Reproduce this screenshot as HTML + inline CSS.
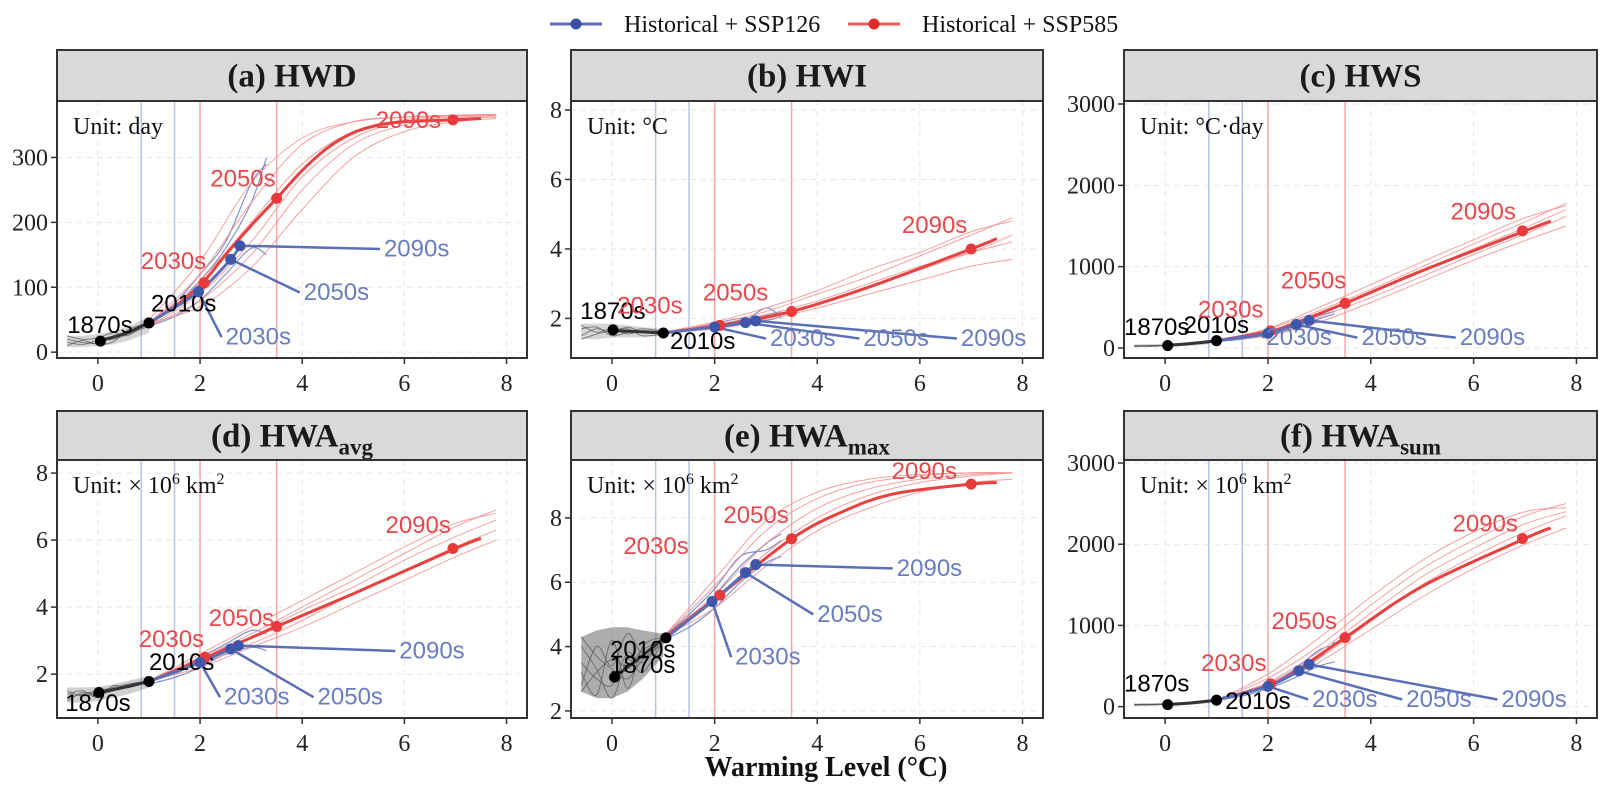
<!DOCTYPE html>
<html><head><meta charset="utf-8">
<style>
html,body{margin:0;padding:0;background:#fff;}
svg{display:block;}
</style></head>
<body>
<svg id="chart" width="1606" height="794" viewBox="0 0 1606 794" xmlns="http://www.w3.org/2000/svg">
  <g>
    <line x1="550" y1="24" x2="602" y2="24" stroke="#5a6fb5" stroke-width="3"/>
    <circle cx="576" cy="24" r="5.5" fill="#3a52a8"/>
    <text x="624" y="32" font-family="Liberation Serif, serif" font-size="24" fill="#111">Historical + SSP126</text>
    <line x1="848" y1="24" x2="900" y2="24" stroke="#ef5a5a" stroke-width="3"/>
    <circle cx="874" cy="24" r="5.5" fill="#e42a2a"/>
    <text x="922" y="32" font-family="Liberation Serif, serif" font-size="24" fill="#111">Historical + SSP585</text>
  </g>
  <text x="826" y="776" text-anchor="middle" font-family="Liberation Serif, serif" font-weight="bold" font-size="28" fill="#111">Warming Level (°C)</text>
</svg>
<script>
// ---------- shared data ----------
const xTicks = [0, 2, 4, 6, 8];
const refBlue = [0.85, 1.5];
const refRed = [2.0, 3.5];
const redXs = [1, 2, 3, 4, 5, 6, 7, 7.8];
const blueXs = [1, 1.5, 2, 2.5, 3, 3.3];
const grayXs = [-0.6, -0.3, 0, 0.3, 0.6, 1.0];

// ---------- (a) HWD ----------
const hwdYTicks = [0, 100, 200, 300];
const hwdGray = [[15,12,18,20,28,40],[20,15,14,25,32,48],[10,18,12,16,35,45],[25,20,22,30,26,50]];
const hwdBandLo = [8,8,9,12,18,30];
const hwdBandHi = [25,25,28,32,40,55];
const hwdBlue = [[45,70,110,160,230,300],[40,55,80,120,160,150],[45,75,120,170,260,290]];
const hwdRed = [[45,120,230,320,355,362,365,366],[40,90,170,270,330,355,362,364],[45,70,130,220,300,340,355,360],[50,140,260,330,355,362,365,366],[40,80,150,250,320,350,360,362],[45,110,200,290,340,358,364,365]];
const hwdHist = [[0,17],[0.5,28],[1,45]];
const hwdMain = [[1,45],[1.5,70],[2.05,107],[2.5,150],[3,195],[3.5,237],[4,280],[4.5,315],[5,338],[5.5,350],[6,355],[7,358],[7.5,360]];
const hwdBlack = [[0.05,17,'1870s',-0.6,41],[1.0,45,'2010s',1.04,74]];
const hwdRedPts = [[2.08,107,'2030s',0.84,140],[3.5,237,'2050s',2.2,267],[6.95,358,'2090s',5.44,357]];
const hwdBluePts = [[1.97,93,'2030s',2.5,23],[2.6,143,'2050s',4.03,92],[2.78,164,'2090s',5.6,159]];

// ---------- (b) HWI ----------
const hwiYTicks = [2, 4, 6, 8];
const hwiGray = [[1.5,1.7,1.6,1.75,1.6,1.6],[1.8,1.6,1.7,1.55,1.65,1.6],[1.4,1.55,1.65,1.7,1.5,1.55],[1.7,1.75,1.5,1.6,1.7,1.62]];
const hwiBandLo = [1.4,1.4,1.45,1.45,1.45,1.5];
const hwiBandHi = [1.85,1.85,1.85,1.8,1.75,1.7];
const hwiBlue = [[1.6,1.7,1.8,1.95,2.1,2.2],[1.6,1.65,1.75,1.85,2.3,2.0],[1.55,1.7,1.85,2.0,1.95,2.05]];
const hwiRed = [[1.6,1.85,2.2,2.7,3.2,3.8,4.4,4.9],[1.6,1.75,2.0,2.4,2.9,3.4,3.9,4.4],[1.6,1.8,2.1,2.5,3.0,3.5,3.9,4.2],[1.6,1.9,2.3,2.8,3.4,3.9,4.5,4.8],[1.6,1.7,1.95,2.3,2.7,3.1,3.5,3.7]];
const hwiHist = [[0,1.65],[0.5,1.62],[1,1.58]];
const hwiMain = [[1,1.58],[2.1,1.8],[3.5,2.2],[5,2.9],[7,4.0],[7.5,4.3]];
const hwiBlack = [[0.02,1.67,'1870s',-0.62,2.2],[1.0,1.58,'2010s',1.13,1.33]];
const hwiRedPts = [[2.1,1.8,'2030s',0.1,2.36],[3.5,2.2,'2050s',1.77,2.73],[7.0,4.0,'2090s',5.65,4.67]];
const hwiBluePts = [[2.0,1.75,'2030s',3.08,1.42],[2.6,1.88,'2050s',4.9,1.42],[2.8,1.93,'2090s',6.8,1.42]];

// ---------- (c) HWS ----------
const hwsYTicks = [0, 1000, 2000, 3000];
const hwsGray = [[20,25,30,35,50,80],[30,20,35,40,55,85],[25,30,28,45,60,90],[20,28,32,38,50,75]];
const hwsBandLo = [10,12,15,20,30,55];
const hwsBandHi = [45,48,52,60,75,110];
const hwsBlue = [[80,120,180,260,360,420],[80,110,160,240,320,300],[90,130,200,290,400,450]];
const hwsRed = [[90,230,460,720,1000,1280,1550,1780],[90,180,380,620,880,1150,1400,1620],[90,200,420,680,950,1220,1480,1700],[90,150,320,560,820,1080,1320,1500],[90,240,500,780,1060,1330,1600,1750]];
const hwsHist = [[0,30],[0.5,55],[1,90]];
const hwsMain = [[1,90],[2,200],[2.5,300],[3.5,550],[5,950],[7,1440],[7.5,1560]];
const hwsBlack = [[0.05,30,'1870s',-0.8,253],[1.0,90,'2010s',0.36,278]];
const hwsRedPts = [[2.05,210,'2030s',0.64,468],[3.5,550,'2050s',2.25,823],[6.95,1440,'2090s',5.55,1670]];
const hwsBluePts = [[2.0,180,'2030s',1.97,127],[2.55,290,'2050s',3.82,127],[2.8,340,'2090s',5.73,127]];

// ---------- (d) HWA avg ----------
const avgYTicks = [2, 4, 6, 8];
const avgGray = [[1.3,1.4,1.5,1.6,1.7,1.8],[1.5,1.35,1.45,1.55,1.65,1.75],[1.2,1.45,1.4,1.5,1.7,1.8],[1.4,1.5,1.3,1.65,1.6,1.78]];
const avgBandLo = [1.15,1.15,1.2,1.3,1.4,1.6];
const avgBandHi = [1.6,1.6,1.62,1.7,1.8,1.95];
const avgBlue = [[1.8,2.0,2.4,2.8,3.1,3.3],[1.7,1.9,2.2,2.6,2.8,2.7],[1.8,2.1,2.5,2.9,3.3,3.2]];
const avgRed = [[1.8,2.5,3.2,4.0,4.8,5.6,6.4,6.9],[1.8,2.3,2.9,3.6,4.4,5.1,5.8,6.3],[1.8,2.6,3.4,4.2,5.0,5.8,6.5,6.8],[1.8,2.2,2.8,3.4,4.1,4.8,5.5,6.0],[1.8,2.4,3.1,3.9,4.6,5.4,6.1,6.6]];
const avgHist = [[0,1.45],[0.5,1.6],[1,1.78]];
const avgMain = [[1,1.78],[2.05,2.45],[3.5,3.42],[5,4.4],[7,5.75],[7.5,6.05]];
const avgBlack = [[0.02,1.45,'1870s',-0.64,1.12],[1.0,1.78,'2010s',1.0,2.34]];
const avgRedPts = [[2.1,2.5,'2030s',0.8,3.03],[3.5,3.42,'2050s',2.17,3.66],[6.95,5.75,'2090s',5.63,6.44]];
const avgBluePts = [[2.0,2.35,'2030s',2.47,1.31],[2.6,2.75,'2050s',4.3,1.31],[2.75,2.85,'2090s',5.9,2.69]];

// ---------- (e) HWA max ----------
const maxYTicks = [2, 4, 6, 8];
const maxGray = [[2.6,3.2,3.6,3.4,3.9,4.2],[3.5,3.0,2.8,3.8,3.5,4.3],[4.3,3.7,3.3,3.0,3.6,4.1],[2.8,4.0,3.4,4.4,3.8,4.25],[3.2,2.5,4.2,2.7,4.0,4.3],[4.0,3.3,2.4,3.6,3.2,4.2]];
const maxBandLo = [2.6,2.4,2.4,2.6,3.0,3.7];
const maxBandHi = [4.3,4.5,4.6,4.6,4.5,4.4];
const maxBlue = [[4.2,4.8,5.6,6.5,7.2,7.5],[4.2,4.6,5.2,6.0,6.6,6.8],[4.3,5.0,5.8,6.8,7.0,7.3]];
const maxRed = [[4.3,5.9,7.6,8.6,9.1,9.3,9.4,9.4],[4.3,5.4,6.9,8.0,8.7,9.1,9.3,9.4],[4.3,6.1,7.9,8.8,9.2,9.35,9.4,9.4],[4.3,5.2,6.5,7.6,8.3,8.8,9.1,9.2],[4.3,5.6,7.2,8.3,8.9,9.2,9.35,9.4]];
const maxHist = [[0.05,3.05],[0.5,3.6],[1,4.25]];
const maxMain = [[1,4.25],[2.1,5.6],[3.5,7.35],[4.5,8.2],[5.5,8.75],[7,9.05],[7.5,9.1]];
const maxBlack = [[0.05,3.05,'1870s',-0.04,3.41],[1.05,4.27,'2010s',-0.04,3.9]];
const maxRedPts = [[2.1,5.6,'2030s',0.22,7.11],[3.5,7.35,'2050s',2.17,8.07],[7.0,9.05,'2090s',5.45,9.44]];
const maxBluePts = [[1.95,5.4,'2030s',2.4,3.67],[2.6,6.3,'2050s',4.0,5.0],[2.8,6.55,'2090s',5.55,6.43]];

// ---------- (f) HWA sum ----------
const sumYTicks = [0, 1000, 2000, 3000];
const sumGray = [[20,25,30,35,50,80],[30,20,35,40,55,85],[25,30,28,45,60,90],[20,28,32,38,50,75]];
const sumBandLo = [8,10,12,18,28,50];
const sumBandHi = [40,42,48,55,70,100];
const sumBlue = [[80,150,250,400,600,800],[80,130,220,350,500,550],[80,160,280,450,700,750]];
const sumRed = [[80,350,750,1250,1700,2050,2350,2500],[80,280,600,1050,1500,1850,2150,2350],[80,250,550,950,1350,1700,2000,2200],[80,400,850,1350,1800,2150,2400,2450],[80,300,680,1150,1600,1950,2250,2400]];
const sumHist = [[0,25],[0.5,45],[1,80]];
const sumMain = [[1,80],[2,260],[2.5,420],[3.5,850],[5,1480],[7,2070],[7.5,2200]];
const sumBlack = [[0.05,25,'1870s',-0.8,278],[1.0,80,'2010s',1.17,63]];
const sumRedPts = [[2.05,280,'2030s',0.7,530],[3.5,850,'2050s',2.07,1050],[6.95,2070,'2090s',5.59,2250]];
const sumBluePts = [[2.0,250,'2030s',2.86,88],[2.6,440,'2050s',4.69,88],[2.8,520,'2090s',6.54,88]];

const panels = [
 {key:'hwd', title:'(a) HWD', sub:'', unit:'Unit: day', px0:57, px1:527, sy0:50, py0:101, py1:358, ymin:-9, ymax:387, yt:hwdYTicks, gray:hwdGray, blue:hwdBlue, red:hwdRed, hist:hwdHist, main:hwdMain, black:hwdBlack, rp:hwdRedPts, bp:hwdBluePts, band:[hwdBandLo,hwdBandHi], bandOp:0.3},
 {key:'hwi', title:'(b) HWI', sub:'', unit:'Unit: °C', px0:571, px1:1043, sy0:50, py0:101, py1:358, ymin:0.86, ymax:8.26, yt:hwiYTicks, gray:hwiGray, blue:hwiBlue, red:hwiRed, hist:hwiHist, main:hwiMain, black:hwiBlack, rp:hwiRedPts, bp:hwiBluePts, band:[hwiBandLo,hwiBandHi], bandOp:0.3},
 {key:'hws', title:'(c) HWS', sub:'', unit:'Unit: °C·day', px0:1124, px1:1597, sy0:50, py0:101, py1:358, ymin:-123, ymax:3037, yt:hwsYTicks, gray:hwsGray, blue:hwsBlue, red:hwsRed, hist:hwsHist, main:hwsMain, black:hwsBlack, rp:hwsRedPts, bp:hwsBluePts, band:[hwsBandLo,hwsBandHi], bandOp:0.3},
 {key:'avg', title:'(d) HWA', sub:'avg', unit:'km', px0:57, px1:527, sy0:411, py0:460, py1:718, ymin:0.69, ymax:8.39, yt:avgYTicks, gray:avgGray, blue:avgBlue, red:avgRed, hist:avgHist, main:avgMain, black:avgBlack, rp:avgRedPts, bp:avgBluePts, band:[avgBandLo,avgBandHi], bandOp:0.35},
 {key:'max', title:'(e) HWA', sub:'max', unit:'km', px0:571, px1:1043, sy0:411, py0:460, py1:718, ymin:1.78, ymax:9.8, yt:maxYTicks, gray:maxGray, blue:maxBlue, red:maxRed, hist:maxHist, main:maxMain, black:maxBlack, rp:maxRedPts, bp:maxBluePts, band:[maxBandLo,maxBandHi], bandOp:0.6},
 {key:'sum', title:'(f) HWA', sub:'sum', unit:'km', px0:1124, px1:1597, sy0:411, py0:460, py1:718, ymin:-140, ymax:3037, yt:sumYTicks, gray:sumGray, blue:sumBlue, red:sumRed, hist:sumHist, main:sumMain, black:sumBlack, rp:sumRedPts, bp:sumBluePts, band:[sumBandLo,sumBandHi], bandOp:0.3}
];

const NS = 'http://www.w3.org/2000/svg';
const svg = document.getElementById('chart');
function mk(tag, attrs, parent){ const e=document.createElementNS(NS,tag); for(const k in attrs) e.setAttribute(k,attrs[k]); parent.appendChild(e); return e; }
function smooth(pts){
  if(pts.length<2) return '';
  let d='M'+pts[0][0].toFixed(1)+','+pts[0][1].toFixed(1);
  for(let i=0;i<pts.length-1;i++){
    const p0=pts[i-1]||pts[i], p1=pts[i], p2=pts[i+1], p3=pts[i+2]||p2;
    const c1=[p1[0]+(p2[0]-p0[0])/6, p1[1]+(p2[1]-p0[1])/6];
    const c2=[p2[0]-(p3[0]-p1[0])/6, p2[1]-(p3[1]-p1[1])/6];
    d+=' C'+c1[0].toFixed(1)+','+c1[1].toFixed(1)+' '+c2[0].toFixed(1)+','+c2[1].toFixed(1)+' '+p2[0].toFixed(1)+','+p2[1].toFixed(1);
  }
  return d;
}
const SERIF='Liberation Serif, serif', SANS='Liberation Sans, sans-serif';
const LBL_RED='#e8474c', LBL_BLUE='#6a7dc0';

panels.forEach(function(p){
  const xmin=-0.8, xmax=8.4;
  const X=v=>p.px0+(v-xmin)/(xmax-xmin)*(p.px1-p.px0);
  const Y=v=>p.py1-(v-p.ymin)/(p.ymax-p.ymin)*(p.py1-p.py0);
  const g=mk('g',{},svg);
  
  
  const strip=mk('rect',{x:p.px0,y:p.sy0,width:p.px1-p.px0,height:p.py0-p.sy0,fill:'#d9d9d9',stroke:'#333','stroke-width':2},g);
  
  
  const tt=mk('text',{x:(p.px0+p.px1)/2,y:p.sy0+(p.py0-p.sy0)/2+11,'text-anchor':'middle','font-family':SERIF,'font-weight':'bold','font-size':33,fill:'#1a1a1a'},g);
  
  
  tt.textContent=p.title;
  if(p.sub){ const s=mk('tspan',{'font-size':23,dy:8},tt); s.textContent=p.sub; }
  const cid='clip-'+p.key;
  const cp=mk('clipPath',{id:cid},g);
  mk('rect',{x:p.px0,y:p.py0,width:p.px1-p.px0,height:p.py1-p.py0},cp);
  const pg=mk('g',{'clip-path':'url(#'+cid+')'},g);
  
  
  xTicks.forEach(function(t){
    const l=mk('line',{x1:X(t),x2:X(t),y1:p.py0,y2:p.py1,stroke:'#e6e6e6','stroke-width':1,'stroke-dasharray':'5,5'},pg);
    
    
  });
  p.yt.forEach(function(t){
    const l=mk('line',{x1:p.px0,x2:p.px1,y1:Y(t),y2:Y(t),stroke:'#e6e6e6','stroke-width':1,'stroke-dasharray':'5,5'},pg);
    
    
  });
  refBlue.forEach(function(v){
    const l=mk('line',{x1:X(v),x2:X(v),y1:p.py0,y2:p.py1,stroke:'#b8c2e6','stroke-width':1.5},pg);
    
    
  });
  refRed.forEach(function(v){
    const l=mk('line',{x1:X(v),x2:X(v),y1:p.py0,y2:p.py1,stroke:'#f4a9a9','stroke-width':1.5},pg);
    
    
  });
  if(p.band){
    const top=grayXs.map((x,i)=>[X(x),Y(p.band[1][i])]);
    const bot=grayXs.map((x,i)=>[X(x),Y(p.band[0][i])]).reverse();
    const poly=mk('polygon',{points:top.concat(bot).map(q=>q[0].toFixed(1)+','+q[1].toFixed(1)).join(' '),fill:'#777',opacity:p.bandOp},pg);
    
    
  }
  p.gray.forEach(function(arr){
    const path=mk('path',{d:smooth(grayXs.map((x,i)=>[X(x),Y(arr[i])])),fill:'none',stroke:'#555','stroke-width':1,opacity:0.7},pg);
    
    
  });
  p.blue.forEach(function(arr){
    const path=mk('path',{d:smooth(blueXs.map((x,i)=>[X(x),Y(arr[i])])),fill:'none',stroke:'#6c80c6','stroke-width':1.2,opacity:0.85},pg);
    
    
  });
  p.red.forEach(function(arr){
    const path=mk('path',{d:smooth(redXs.map((x,i)=>[X(x),Y(arr[i])])),fill:'none',stroke:'#f08a8a','stroke-width':1,opacity:0.8},pg);
    
    
  });
  const hist=mk('path',{d:smooth(p.hist.map(q=>[X(q[0]),Y(q[1])])),fill:'none',stroke:'#333','stroke-width':3},pg);
  
  
  const main=mk('path',{d:smooth(p.main.map(q=>[X(q[0]),Y(q[1])])),fill:'none',stroke:'#e8413f','stroke-width':3},pg);
  
  
  const bl=[p.black[1]].concat(p.bp);
  const bmain=mk('path',{d:smooth(bl.map(q=>[X(q[0]),Y(q[1])])),fill:'none',stroke:'#5a6fb5','stroke-width':3},pg);
  
  
  p.bp.forEach(function(q){
    const l=mk('line',{x1:X(q[0]),y1:Y(q[1]),x2:X(q[3])-4,y2:Y(q[4]),stroke:'#5a6fb5','stroke-width':2.5},pg);
    
    
  });
  function pts(arr,color,lcolor,name){
    arr.forEach(function(q){
      const c=mk('circle',{cx:X(q[0]),cy:Y(q[1]),r:5.5,fill:color},pg);
      
      
      const t=mk('text',{x:X(q[3]),y:Y(q[4]),'dominant-baseline':'central','font-family':SANS,'font-size':24,fill:lcolor},pg);
      
      
      t.textContent=q[2];
    });
  }
  pts(p.black,'#000','#000','historical');
  pts(p.rp,'#e83a3a',LBL_RED,'ssp585');
  pts(p.bp,'#3f57aa',LBL_BLUE,'ssp126');
  const ut=mk('text',{x:p.px0+16,y:p.py0+33,'font-family':SERIF,'font-size':24,fill:'#111'},g);
  
  
  if(p.unit==='km'){
    ut.textContent='Unit: × 10';
    const s1=mk('tspan',{'font-size':16,dy:-9},ut); s1.textContent='6';
    const s2=mk('tspan',{dy:9},ut); s2.textContent=' km';
    const s3=mk('tspan',{'font-size':16,dy:-9},ut); s3.textContent='2';
  } else { ut.textContent=p.unit; }
  const b=mk('rect',{x:p.px0,y:p.py0,width:p.px1-p.px0,height:p.py1-p.py0,fill:'none',stroke:'#333','stroke-width':2},g);
  
  
  xTicks.forEach(function(t){
    const l=mk('line',{x1:X(t),x2:X(t),y1:p.py1,y2:p.py1+6,stroke:'#333','stroke-width':1.5},g);
    
    
    const tx=mk('text',{x:X(t),y:p.py1+33,'text-anchor':'middle','font-family':SERIF,'font-size':24,fill:'#222'},g);
    
    
    tx.textContent=t;
  });
  p.yt.forEach(function(t){
    const l=mk('line',{x1:p.px0-6,x2:p.px0,y1:Y(t),y2:Y(t),stroke:'#333','stroke-width':1.5},g);
    
    
    const tx=mk('text',{x:p.px0-9,y:Y(t)+8,'text-anchor':'end','font-family':SERIF,'font-size':24,fill:'#222'},g);
    
    
    tx.textContent=t;
  });
});
</script>
</body></html>
